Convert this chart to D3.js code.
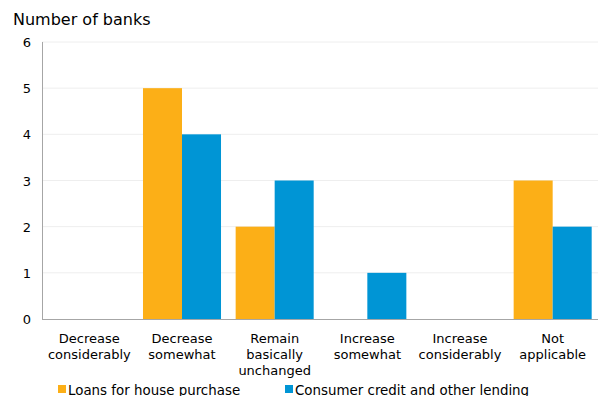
<!DOCTYPE html>
<html>
<head>
<meta charset="utf-8">
<script src="https://cdn.jsdelivr.net/npm/d3@7"></script>
<style>
  html, body { margin: 0; padding: 0; background: #fff; }
  svg { display: block; font-family: "DejaVu Sans", Verdana, sans-serif; }
</style>
</head>
<body>
<svg id="chart" width="598" height="396"></svg>
<script>
const categories = [
  ["Decrease", "considerably"],
  ["Decrease", "somewhat"],
  ["Remain", "basically", "unchanged"],
  ["Increase", "somewhat"],
  ["Increase", "considerably"],
  ["Not", "applicable"]
];
const seriesNames = ["Loans for house purchase", "Consumer credit and other lending"];
const loansHouse = [0, 5, 2, 0, 0, 3];
const consumerCredit = [0, 4, 3, 1, 0, 2];
const yTicks = [0, 1, 2, 3, 4, 5, 6];
const colors = ["#FCAF17", "#0095D5"];

const svg = d3.select("#chart");
const margin = { left: 42, right: 0, top: 42, bottom: 77 };
const W = 598, H = 396;
const plotBottom = H - margin.bottom;

const x = d3.scaleBand()
  .domain(d3.range(categories.length))
  .range([margin.left + 1, W + 1])
  .paddingInner(0.158)
  .paddingOuter(0.079);

const xs = d3.scaleBand().domain([0, 1]).range([0, x.bandwidth()]);

const y = d3.scaleLinear().domain([0, 6]).range([plotBottom, margin.top]);

// gridlines
svg.append("g")
  .selectAll("line")
  .data(yTicks.filter(d => d > 0))
  .join("line")
  .attr("x1", margin.left).attr("x2", W)
  .attr("y1", d => y(d)).attr("y2", d => y(d))
  .attr("stroke", "#eeeeee").attr("stroke-width", 1);

// y tick labels
svg.append("g")
  .selectAll("text")
  .data(yTicks)
  .join("text")
  .attr("x", 31)
  .attr("y", d => y(d) + 5)
  .attr("text-anchor", "end")
  .attr("font-size", 13)
  .attr("fill", "#000")
  .text(d => d);

// bars
const series = [loansHouse, consumerCredit];
series.forEach((vals, si) => {
  svg.append("g")
    .selectAll("rect")
    .data(vals)
    .join("rect")
    .attr("x", (d, i) => x(i) + xs(si))
    .attr("width", xs.bandwidth())
    .attr("y", d => y(d))
    .attr("height", d => plotBottom - y(d))
    .attr("fill", colors[si]);
});

// axes lines
svg.append("line")
  .attr("x1", margin.left + 0.5).attr("x2", margin.left + 0.5)
  .attr("y1", margin.top).attr("y2", plotBottom)
  .attr("stroke", "#a6a6a6").attr("stroke-width", 1);
svg.append("line")
  .attr("x1", margin.left).attr("x2", W)
  .attr("y1", plotBottom + 0.5).attr("y2", plotBottom + 0.5)
  .attr("stroke", "#a6a6a6").attr("stroke-width", 1);

// category labels
const catG = svg.append("g")
  .selectAll("text")
  .data(categories)
  .join("text")
  .attr("x", (d, i) => x(i) + x.bandwidth() / 2)
  .attr("y", 343)
  .attr("text-anchor", "middle")
  .attr("font-size", 13)
  .attr("fill", "#000");
catG.selectAll("tspan")
  .data(d => d)
  .join("tspan")
  .attr("x", function() { return d3.select(this.parentNode).attr("x"); })
  .attr("dy", (d, i) => i === 0 ? 0 : 16)
  .text(d => d);

// title
svg.append("text")
  .attr("x", 13).attr("y", 25)
  .attr("font-size", 16)
  .attr("fill", "#000")
  .text("Number of banks");

// legend
const legendX = [58, 285];
seriesNames.forEach((name, i) => {
  svg.append("rect")
    .attr("x", legendX[i]).attr("y", 385)
    .attr("width", 8).attr("height", 8)
    .attr("fill", colors[i]);
  svg.append("text")
    .attr("x", legendX[i] + 10).attr("y", 394.5)
    .attr("font-size", 13.4)
    .attr("fill", "#000")
    .text(name);
});
</script>
</body>
</html>
